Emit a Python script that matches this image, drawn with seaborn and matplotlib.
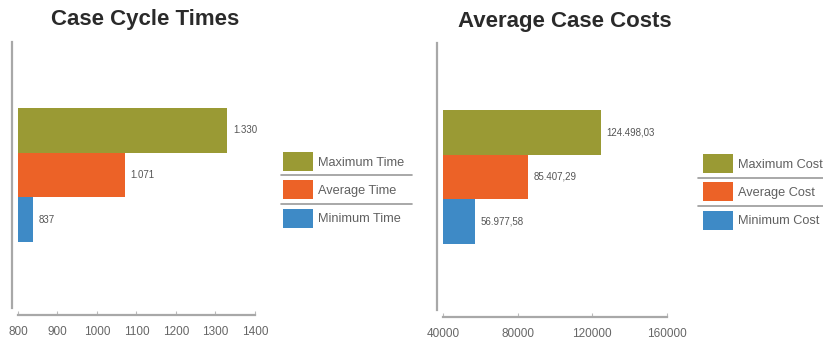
import matplotlib
matplotlib.use("Agg")
import matplotlib.pyplot as plt
import seaborn as sns
import pandas as pd
from matplotlib.patches import Patch
from matplotlib.lines import Line2D

# data
time_cats = ["Maximum Time", "Average Time", "Minimum Time"]
time_vals = [1330, 1071, 837]
time_labels = ["1.330", "1.071", "837"]
time_ticks = [800, 900, 1000, 1100, 1200, 1300, 1400]

cost_cats = ["Maximum Cost", "Average Cost", "Minimum Cost"]
cost_vals = [124498.03, 85407.29, 56977.58]
cost_labels = ["124.498,03", "85.407,29", "56.977,58"]
cost_ticks = [40000, 80000, 120000, 160000]

colors = ["#9a9a34", "#ec6227", "#3e8ac6"]

sns.set_style("white")
plt.rcParams["font.family"] = ["Liberation Sans", "DejaVu Sans"]

W, H = 823, 343
fig = plt.figure(figsize=(W / 100, H / 100), dpi=100)


def px_box(x0, y0, x1, y1):
    # pixel box -> figure fraction rect
    return [x0 / W, 1 - y1 / H, (x1 - x0) / W, (y1 - y0) / H]


def chart(rect, cats, vals, labels, ticks, ylim, title, title_x, title_y,
          leg_xy, seps):
    ax = fig.add_axes(rect)
    df = pd.DataFrame({"cat": cats, "val": vals})
    sns.barplot(data=df, x="val", y="cat", hue="cat", palette=colors,
                width=1.0, orient="h", legend=False, saturation=1,
                linewidth=0, ax=ax)
    ax.set_xlim(ticks[0], ticks[-1])
    ax.set_ylim(*ylim)
    ax.set_xticks(ticks)
    ax.set_xticklabels([str(t) for t in ticks])
    ax.set_yticks([])
    ax.set_xlabel("")
    ax.set_ylabel("")
    for s in ["top", "right"]:
        ax.spines[s].set_visible(False)
    ax.spines["left"].set_position(("outward", 4.3))
    ax.spines["bottom"].set_position(("outward", 5))
    for s in ["left", "bottom"]:
        ax.spines[s].set_color("#a8a8a8")
        ax.spines[s].set_linewidth(1.6)
    ax.tick_params(axis="x", direction="in", length=3, color="#bbbbbb",
                   labelsize=8.5, labelcolor="#666666", pad=8, bottom=True)

    for cont, lab in zip(ax.containers, labels):
        ax.bar_label(cont, labels=[lab], padding=4, fontsize=7,
                     color="#555555")

    handles = [Patch(facecolor=c, edgecolor="none", label=l)
               for c, l in zip(colors, cats)]
    ax.legend(handles=handles, loc="upper left",
              bbox_to_anchor=(leg_xy[0] / W, 1 - leg_xy[1] / H),
              bbox_transform=fig.transFigure, frameon=False,
              handlelength=2.35, handleheight=1.91, labelspacing=0.74,
              handletextpad=0.35, borderpad=0, borderaxespad=0,
              fontsize=9.2, labelcolor="#606060")
    for y, x0, x1 in seps:
        fig.add_artist(Line2D([x0 / W, x1 / W], [1 - y / H, 1 - y / H],
                              transform=fig.transFigure, color="#9a9a9a",
                              lw=1.2))

    fig.text(title_x / W, 1 - title_y / H, title, ha="center", va="center",
             fontsize=16, fontweight="bold", color="#2a2a2a")
    return ax


chart(px_box(18, 42, 255, 308), time_cats, time_vals, time_labels,
      time_ticks, (3.96, -1.96), "Case Cycle Times", 145, 20,
      (283, 152), [(175, 281, 412), (204, 281, 412)])

chart(px_box(443, 43, 667, 310), cost_cats, cost_vals, cost_labels,
      cost_ticks, (3.97, -1.99), "Average Case Costs", 565, 22,
      (703, 154), [(178, 698, 823), (206, 698, 823)])

fig.savefig("out.png", dpi=100)
